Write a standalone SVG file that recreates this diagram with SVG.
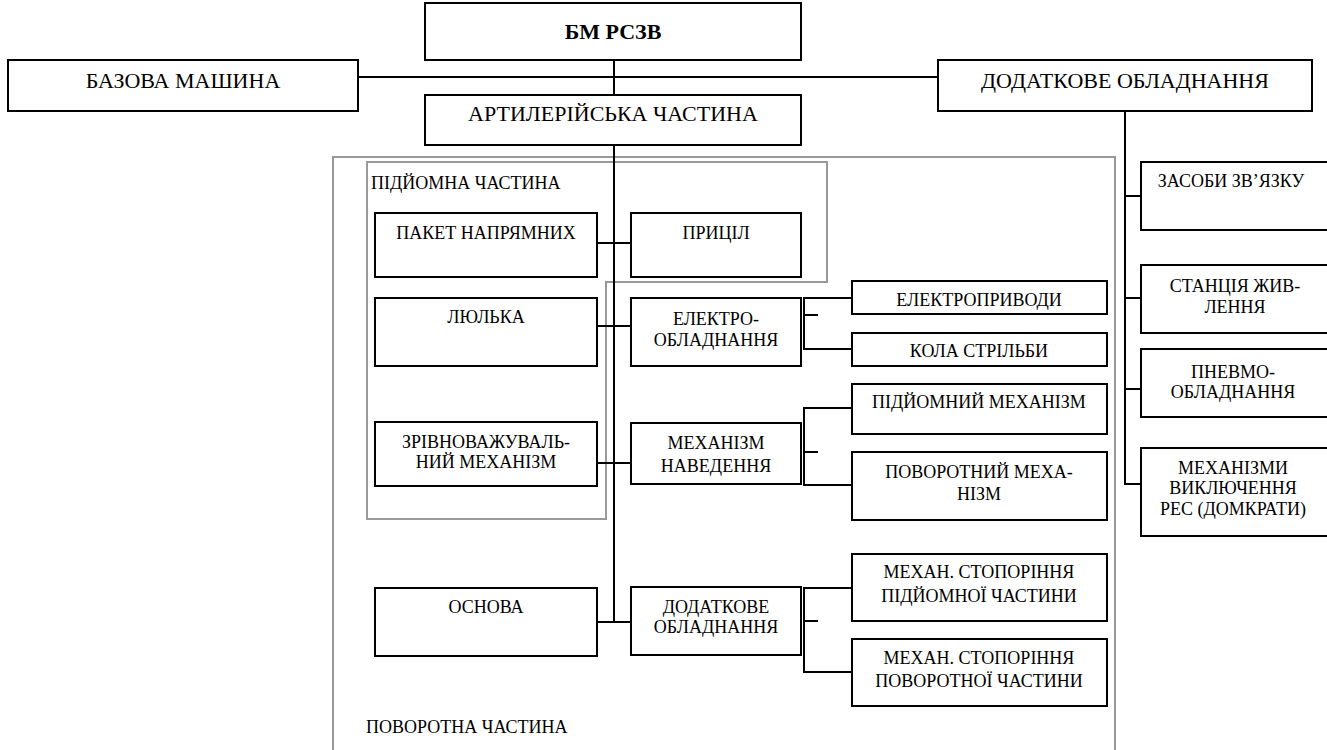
<svg xmlns="http://www.w3.org/2000/svg" width="1327" height="750" viewBox="0 0 1327 750" font-family="'Liberation Serif', 'Times New Roman', 'DejaVu Serif', serif">
  <style>
    .box { fill: #ffffff; stroke: #000000; stroke-width: 2; }
    .area { fill: none; stroke: #999999; stroke-width: 2; }
    .wire { fill: none; stroke: #000000; stroke-width: 2; }
    .big { font-size: 22px; text-anchor: middle; }
    .bold { font-weight: bold; }
    .t { font-size: 18px; text-anchor: middle; }
    .lbl { font-size: 18px; }
  </style>
  <rect width="1327" height="750" fill="#ffffff"/>

  <!-- grouping outlines -->
  <g id="areas">
    <rect class="area" x="333" y="157" width="782" height="610"/>
    <polygon class="area" points="367,162 827,162 827,282 606,282 606,519 367,519"/>
    <text class="lbl" x="371" y="189" font-family="Liberation Serif, serif">ПІДЙОМНА ЧАСТИНА</text>
    <text class="lbl" x="366" y="733" font-family="Liberation Serif, serif">ПОВОРОТНА ЧАСТИНА</text>
  </g>

  <!-- connectors -->
  <g id="connectors">
    <path class="wire" d="M614,60 V95"/>
    <path class="wire" d="M358,77 H938"/>
    <path class="wire" d="M614,145 V622"/>
    <path class="wire" d="M597,243 H631"/>
    <path class="wire" d="M597,326 H631"/>
    <path class="wire" d="M597,463 H631"/>
    <path class="wire" d="M597,622 H631"/>
    <path class="wire" d="M852,298 H804 V349 H852 M804,315 H818"/>
    <path class="wire" d="M852,408 H804 V485 H852 M804,452 H818"/>
    <path class="wire" d="M852,588 H804 V672 H852 M804,621 H818"/>
    <path class="wire" d="M1125,111 V484 H1141 M1125,196 H1141 M1125,298 H1141 M1125,389 H1141"/>
  </g>

  <g id="bm">
    <rect class="box" x="425" y="3" width="376" height="57"/>
    <text class="big bold" x="613" y="39">БМ РСЗВ</text>
  </g>
  <g id="base-machine">
    <rect class="box" x="8" y="60" width="350" height="51"/>
    <text class="big" x="183" y="88">БАЗОВА МАШИНА</text>
  </g>
  <g id="extra-equipment">
    <rect class="box" x="938" y="60" width="374" height="51"/>
    <text class="big" x="1125" y="88">ДОДАТКОВЕ ОБЛАДНАННЯ</text>
  </g>
  <g id="artillery">
    <rect class="box" x="425" y="95" width="376" height="50"/>
    <text class="big" x="613" y="121">АРТИЛЕРІЙСЬКА ЧАСТИНА</text>
  </g>

  <g id="guide-pack">
    <rect class="box" x="375" y="213" width="222" height="64"/>
    <text class="t" x="486" y="239">ПАКЕТ НАПРЯМНИХ</text>
  </g>
  <g id="sight">
    <rect class="box" x="631" y="213" width="170" height="64"/>
    <text class="t" x="716" y="239">ПРИЦІЛ</text>
  </g>
  <g id="cradle">
    <rect class="box" x="375" y="298" width="222" height="68"/>
    <text class="t" x="486" y="323">ЛЮЛЬКА</text>
  </g>
  <g id="electrical">
    <rect class="box" x="631" y="298" width="170" height="68"/>
    <text class="t" x="716" y="325">ЕЛЕКТРО-</text>
    <text class="t" x="716" y="346">ОБЛАДНАННЯ</text>
  </g>
  <g id="drives">
    <rect class="box" x="852" y="281" width="255" height="33"/>
    <text class="t" x="979" y="306">ЕЛЕКТРОПРИВОДИ</text>
  </g>
  <g id="firing-circuits">
    <rect class="box" x="852" y="333" width="255" height="33"/>
    <text class="t" x="979" y="357">КОЛА СТРІЛЬБИ</text>
  </g>
  <g id="balancer">
    <rect class="box" x="375" y="422" width="222" height="64"/>
    <text class="t" x="486" y="448">ЗРІВНОВАЖУВАЛЬ-</text>
    <text class="t" x="486" y="468">НИЙ МЕХАНІЗМ</text>
  </g>
  <g id="laying">
    <rect class="box" x="631" y="423" width="170" height="61"/>
    <text class="t" x="716" y="449">МЕХАНІЗМ</text>
    <text class="t" x="716" y="472">НАВЕДЕННЯ</text>
  </g>
  <g id="elevating">
    <rect class="box" x="852" y="384" width="255" height="50"/>
    <text class="t" x="979" y="408">ПІДЙОМНИЙ МЕХАНІЗМ</text>
  </g>
  <g id="traversing">
    <rect class="box" x="852" y="452" width="255" height="68"/>
    <text class="t" x="979" y="478">ПОВОРОТНИЙ МЕХА-</text>
    <text class="t" x="979" y="500">НІЗМ</text>
  </g>
  <g id="base">
    <rect class="box" x="375" y="588" width="222" height="68"/>
    <text class="t" x="486" y="613">ОСНОВА</text>
  </g>
  <g id="auxiliary">
    <rect class="box" x="631" y="587" width="170" height="68"/>
    <text class="t" x="716" y="613">ДОДАТКОВЕ</text>
    <text class="t" x="716" y="633">ОБЛАДНАННЯ</text>
  </g>
  <g id="lock-elevating">
    <rect class="box" x="852" y="554" width="255" height="67"/>
    <text class="t" x="979" y="578">МЕХАН. СТОПОРІННЯ</text>
    <text class="t" x="979" y="602">ПІДЙОМНОЇ ЧАСТИНИ</text>
  </g>
  <g id="lock-traversing">
    <rect class="box" x="852" y="639" width="255" height="67"/>
    <text class="t" x="979" y="664">МЕХАН. СТОПОРІННЯ</text>
    <text class="t" x="979" y="687">ПОВОРОТНОЇ ЧАСТИНИ</text>
  </g>

  <g id="comms">
    <rect class="box" x="1141" y="162" width="200" height="68"/>
    <text class="t" x="1231" y="187">ЗАСОБИ ЗВ’ЯЗКУ</text>
  </g>
  <g id="power">
    <rect class="box" x="1141" y="265" width="200" height="68"/>
    <text class="t" x="1235" y="292">СТАНЦІЯ ЖИВ-</text>
    <text class="t" x="1235" y="313">ЛЕННЯ</text>
  </g>
  <g id="pneumatic">
    <rect class="box" x="1141" y="349" width="200" height="68"/>
    <text class="t" x="1233" y="378">ПНЕВМО-</text>
    <text class="t" x="1233" y="398">ОБЛАДНАННЯ</text>
  </g>
  <g id="jacks">
    <rect class="box" x="1141" y="448" width="200" height="88"/>
    <text class="t" x="1233" y="474">МЕХАНІЗМИ</text>
    <text class="t" x="1233" y="494">ВИКЛЮЧЕННЯ</text>
    <text class="t" x="1233" y="515">РЕС (ДОМКРАТИ)</text>
  </g>
</svg>
